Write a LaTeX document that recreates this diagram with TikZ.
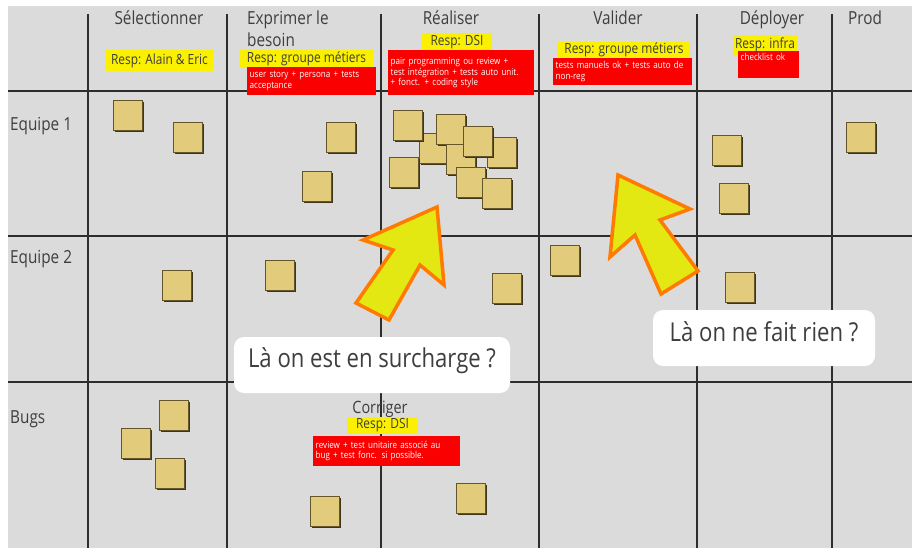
\documentclass[tikz,border=0pt]{standalone}
\usepackage{fontspec}
\setmainfont{Open Sans}
\newfontfamily\condf{Open Sans}[FakeStretch=0.85]
\usetikzlibrary{shadows}
\definecolor{board}{RGB}{219,219,219}
\definecolor{gridc}{RGB}{45,45,45}
\definecolor{inkc}{RGB}{62,62,62}
\definecolor{labely}{RGB}{250,240,0}
\definecolor{redb}{RGB}{250,0,0}
\definecolor{stickyf}{RGB}{226,204,124}
\definecolor{stickyd}{RGB}{100,85,42}
\definecolor{stickys}{RGB}{62,54,28}
\definecolor{arrowf}{RGB}{228,232,18}
\definecolor{arrowo}{RGB}{255,122,0}
\begin{document}
\begin{tikzpicture}[x=1pt,y=-1pt,
  gridline/.style={draw=gridc, line width=1.1pt},
  header/.style={font=\condf\fontsize{18}{21.5}\selectfont, text=inkc, inner sep=0pt},
  resp/.style={fill=labely, text=inkc, font=\condf\fontsize{14}{16}\selectfont, inner sep=0pt},
  redbox/.style={fill=redb, text=white, font=\condf\fontsize{9.5}{10.5}\selectfont, align=left, anchor=north west, inner xsep=2.5pt, inner ysep=2pt},
  sticky/.style={rectangle, fill=stickyf, draw=stickyd, line width=0.6pt, minimum width=29pt, minimum height=30pt, inner sep=0pt, anchor=north west, general shadow={fill=stickys, shadow xshift=1.6pt, shadow yshift=-1.6pt}},
  bigarrow/.style={fill=arrowf, draw=arrowo, line width=3.5pt, line join=miter},
  callout/.style={fill=white, rounded corners=10pt, text=inkc, font=\condf\fontsize{26}{30}\selectfont, inner ysep=10pt}
]
\useasboundingbox (0,0) rectangle (914,551);
\fill[white] (0,0) rectangle (914,551);
\fill[board] (8,6) rectangle (912,548);

% grid
\foreach \x in {88,227,381,539,697,832} \draw[gridline] (\x,14) -- (\x,548);
\foreach \y in {91,236,382} \draw[gridline] (8,\y) -- (912,\y);

% column headers
\node[header, anchor=base] (hSel) at (159,25) {Sélectionner};
\node[header, anchor=north west, align=left] (hExp) at (247,11) {Exprimer le\\besoin};
\node[header, anchor=base] (hRea) at (451,25) {Réaliser};
\node[header, anchor=base] (hVal) at (618,25) {Valider};
\node[header, anchor=base] (hDep) at (772,25) {Déployer};
\node[header, anchor=base west] (hProd) at (848,25) {Prod};

% row labels
\node[header, anchor=base west] (rE1) at (10,131) {Equipe 1};
\node[header, anchor=base west] (rE2) at (10,263) {Equipe 2};
\node[header, anchor=base west] (rBugs) at (10,423) {Bugs};
\node[header, anchor=base, font=\condf\fontsize{17}{20}\selectfont] (hCor) at (380,413) {Corriger};

% yellow responsibility labels
\node[resp, minimum width=107pt, minimum height=21pt] (ySel) at (159.5,60.5) {Resp: Alain \& Eric};
\node[resp, minimum width=133pt, minimum height=18pt] (yExp) at (306.5,59) {Resp: groupe métiers};
\node[resp, minimum width=70pt, minimum height=18pt] (yRea) at (457,42) {Resp: DSI};
\node[resp, minimum width=132pt, minimum height=15pt] (yVal) at (624,49.5) {Resp: groupe métiers};
\node[resp, minimum width=64pt, minimum height=20pt] (yDep) at (765,45) {Resp: infra};
\node[resp, minimum width=71pt, minimum height=17pt] (yCor) at (382.5,425.5) {Resp: DSI};

% red definition-of-done boxes
\node[redbox, text width=124pt, minimum height=28pt] (dExp) at (247,67) {user story + persona + tests\\acceptance};
\node[redbox, text width=141pt, minimum height=45pt] (dRea) at (388,50) {pair programming ou review +\\test intégration + tests auto unit.\\+ fonct. + coding style};
\node[redbox, text width=134pt, minimum height=27pt] (dVal) at (553,58) {tests manuels ok + tests auto de\\non-reg};
\node[redbox, text width=56pt, text height=7pt, text depth=16pt] (dDep) at (738,51) {checklist ok};
\node[redbox, text width=142pt, minimum height=30pt] (dCor) at (313,436) {review + test unitaire associé au\\bug + test fonc. si possible.};

% sticky notes - Equipe 1
\node[sticky] (s1) at (113,100) {};
\node[sticky] (s2) at (173,122) {};
\node[sticky] (s3) at (326,122) {};
\node[sticky] (s4) at (302,171) {};
\node[sticky] (s5) at (419,133) {};
\node[sticky] (s6) at (393,110) {};
\node[sticky] (s7) at (389,157) {};
\node[sticky] (s8) at (436,114) {};
\node[sticky] (s9) at (446,144) {};
\node[sticky] (s10) at (487,137) {};
\node[sticky] (s11) at (463,126) {};
\node[sticky] (s12) at (456,167) {};
\node[sticky] (s13) at (482,178) {};
\node[sticky] (s14) at (712,135) {};
\node[sticky] (s15) at (719,183) {};
\node[sticky] (s16) at (846,122) {};
% Equipe 2
\node[sticky] (s17) at (162,270) {};
\node[sticky] (s18) at (265,260) {};
\node[sticky] (s19) at (492,273) {};
\node[sticky] (s20) at (550,245) {};
\node[sticky] (s21) at (725,272) {};
% Bugs
\node[sticky] (s22) at (159,400) {};
\node[sticky] (s23) at (121,428) {};
\node[sticky] (s24) at (155,458) {};
\node[sticky] (s25) at (310,496) {};
\node[sticky] (s26) at (456,483) {};

% big arrows
\draw[bigarrow] (437,207) -- (444,285) -- (420,265) -- (389,320) -- (356,303) -- (393,250) -- (363,240) -- cycle;
\draw[bigarrow] (618,175) -- (690,209) -- (660,220) -- (698,271) -- (661,294) -- (635,235) -- (610,257) -- cycle;

% callouts
\node[callout, minimum width=276pt, text height=20pt, text depth=16pt] (c1) at (372,365) {Là on est en surcharge ?};
\node[callout, minimum width=222pt, text height=21pt, text depth=15pt] (c2) at (764,338) {Là on ne fait rien ?};
\end{tikzpicture}
\end{document}
